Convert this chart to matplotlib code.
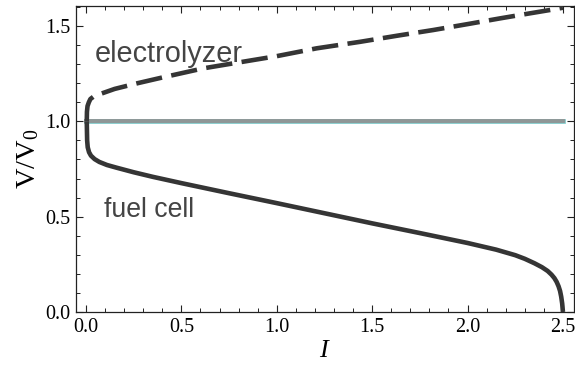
import matplotlib
matplotlib.use("Agg")
import matplotlib.pyplot as plt
from matplotlib.ticker import MultipleLocator

plt.rcParams['mathtext.fontset'] = 'custom'
plt.rcParams['mathtext.rm'] = 'Liberation Serif'
plt.rcParams['mathtext.it'] = 'Liberation Serif:italic'
plt.rcParams['lines.scale_dashes'] = False

# fuel cell curve (I, V/V0)
fc_I = [0.004, 0.005, 0.006, 0.009, 0.016, 0.026, 0.045, 0.07, 0.11, 0.16, 0.25,
        0.35, 0.5, 0.75, 1.0, 1.25, 1.5, 1.75, 2.0, 2.15, 2.25, 2.3, 2.35, 2.39,
        2.42, 2.44, 2.455, 2.467, 2.477, 2.485, 2.491, 2.496, 2.5]
fc_V = [1.0, 0.95, 0.90, 0.864, 0.838, 0.82, 0.802, 0.787, 0.771, 0.757, 0.733,
        0.709, 0.676, 0.623, 0.571, 0.518, 0.465, 0.414, 0.362, 0.327, 0.298, 0.279, 0.256, 0.235,
        0.215, 0.196, 0.178, 0.158, 0.135, 0.11, 0.08, 0.045, 0.0]

# electrolyzer curve
el_I = [0.004, 0.005, 0.008, 0.015, 0.023, 0.04, 0.073, 0.15, 0.266, 0.4, 0.615,
        0.825, 1.0, 1.209, 1.436, 1.63, 1.82, 2.0, 2.17, 2.3, 2.432, 2.5]
el_V = [1.0, 1.05, 1.08, 1.10, 1.117, 1.13, 1.143, 1.17, 1.199, 1.23, 1.278,
        1.313, 1.342, 1.383, 1.417, 1.449, 1.479, 1.51, 1.54, 1.562, 1.584, 1.596]

# reference line
ref_I = [0.0, 2.5]
ref_V = [1.0, 1.0]

xticks = [0.0, 0.5, 1.0, 1.5, 2.0, 2.5]
yticks = [0.0, 0.5, 1.0, 1.5]

fig = plt.figure(figsize=(5.75, 3.65), dpi=100)
ax = fig.add_axes([76/575, 1-312/365, (574-76)/575, (312-6)/365])

curve_col = '#353535'
lw = 3.3

ax.plot(ref_I, ref_V, color='#7cc8c8', lw=3.4, solid_capstyle='projecting', zorder=2)
ax.plot(ref_I, ref_V, color='#8f9696', lw=2.8, solid_capstyle='projecting', zorder=3)

ax.plot(fc_I, fc_V, color=curve_col, lw=lw, solid_capstyle='butt',
        solid_joinstyle='round', zorder=4)
ax.plot(el_I, el_V, color=curve_col, lw=lw, dashes=(19.0, 6.8),
        dash_capstyle='butt', dash_joinstyle='round', zorder=4)

ax.text(0.047, 1.312, 'electrolyzer', fontsize=20.8, color='#444444',
        family='Liberation Sans', ha='left', va='baseline', zorder=5)
ax.text(0.094, 0.497, 'fuel cell', fontsize=19.2, color='#444444',
        family='Liberation Sans', ha='left', va='baseline', zorder=5)

ax.set_xlim(-0.0524, 2.558)
ax.set_ylim(0.0, 1.605)
ax.set_xticks(xticks)
ax.set_yticks(yticks)
ax.set_xticklabels([f'{t:.1f}' for t in xticks])
ax.set_yticklabels([f'{t:.1f}' for t in yticks])
ax.xaxis.set_minor_locator(MultipleLocator(0.1))
ax.yaxis.set_minor_locator(MultipleLocator(0.1))
ax.tick_params(which='both', direction='in', top=True, right=True, color='#222222')
ax.tick_params(which='major', length=4.8, width=0.8, labelsize=14.5, pad=4)
ax.tick_params(which='minor', length=2.9, width=0.7)
for lab in ax.get_xticklabels() + ax.get_yticklabels():
    lab.set_family('Liberation Serif')
for sp in ax.spines.values():
    sp.set_linewidth(0.9)
    sp.set_color('#222222')

ax.set_xlabel('$I$', fontsize=19, labelpad=0)
ax.set_ylabel(r'$\mathrm{V/V_0}$', fontsize=20.5, labelpad=3)

fig.savefig('out.png', dpi=100)
